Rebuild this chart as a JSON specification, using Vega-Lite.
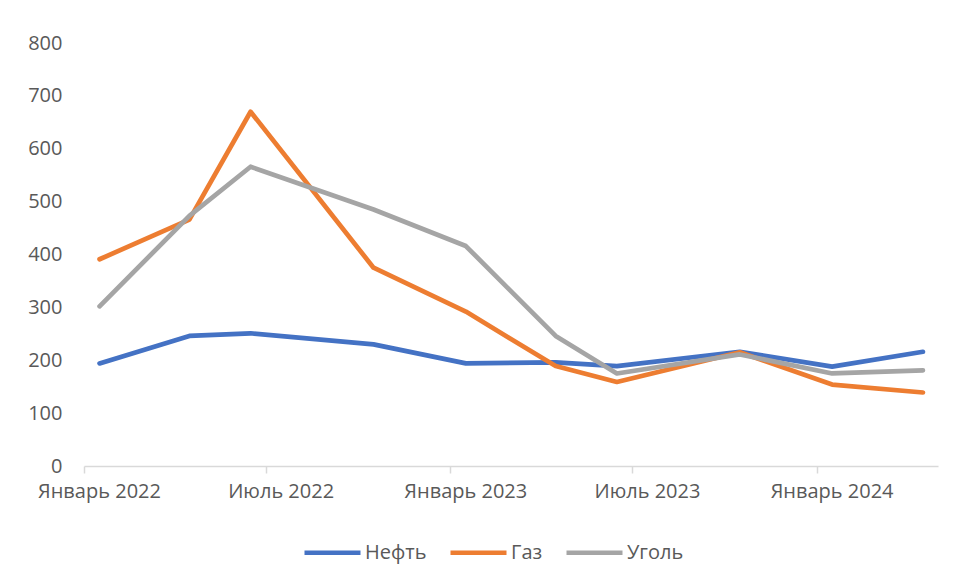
{
  "$schema": "https://vega.github.io/schema/vega-lite/v6.json",
  "width": 854,
  "height": 423,
  "autosize": {"type": "none"},
  "padding": {"left": 84, "top": 43, "right": 16, "bottom": 114},
  "background": "white",
  "config": {
    "view": {"stroke": null},
    "font": "Open Sans",
    "axis": {"labelFont": "Open Sans", "labelFontSize": 20, "labelColor": "#595959", "grid": false},
    "legend": {"labelFont": "Open Sans", "labelFontSize": 20, "labelColor": "#595959"}
  },
  "data": {
    "values": [
      {"date": "2022-01-01", "series": "Нефть", "value": 194},
      {"date": "2022-04-01", "series": "Нефть", "value": 246},
      {"date": "2022-06-01", "series": "Нефть", "value": 251},
      {"date": "2022-10-01", "series": "Нефть", "value": 230},
      {"date": "2023-01-01", "series": "Нефть", "value": 194},
      {"date": "2023-04-01", "series": "Нефть", "value": 196},
      {"date": "2023-06-01", "series": "Нефть", "value": 189},
      {"date": "2023-10-01", "series": "Нефть", "value": 216},
      {"date": "2024-01-01", "series": "Нефть", "value": 188},
      {"date": "2024-04-01", "series": "Нефть", "value": 216},
      {"date": "2022-01-01", "series": "Газ", "value": 391},
      {"date": "2022-04-01", "series": "Газ", "value": 466},
      {"date": "2022-06-01", "series": "Газ", "value": 670},
      {"date": "2022-10-01", "series": "Газ", "value": 375},
      {"date": "2023-01-01", "series": "Газ", "value": 292},
      {"date": "2023-04-01", "series": "Газ", "value": 189},
      {"date": "2023-06-01", "series": "Газ", "value": 159},
      {"date": "2023-10-01", "series": "Газ", "value": 215},
      {"date": "2024-01-01", "series": "Газ", "value": 154},
      {"date": "2024-04-01", "series": "Газ", "value": 139},
      {"date": "2022-01-01", "series": "Уголь", "value": 302},
      {"date": "2022-04-01", "series": "Уголь", "value": 473},
      {"date": "2022-06-01", "series": "Уголь", "value": 566},
      {"date": "2022-10-01", "series": "Уголь", "value": 485},
      {"date": "2023-01-01", "series": "Уголь", "value": 416},
      {"date": "2023-04-01", "series": "Уголь", "value": 246},
      {"date": "2023-06-01", "series": "Уголь", "value": 175},
      {"date": "2023-10-01", "series": "Уголь", "value": 211},
      {"date": "2024-01-01", "series": "Уголь", "value": 175},
      {"date": "2024-04-01", "series": "Уголь", "value": 181}
    ]
  },
  "mark": {"type": "line", "strokeWidth": 4.7, "strokeCap": "round", "strokeJoin": "round"},
  "encoding": {
    "x": {
      "field": "date",
      "type": "temporal",
      "timeUnit": "utcyearmonth",
      "bandPosition": 0.5,
      "title": null,
      "scale": {"domain": [{"year": 2022, "month": 1, "date": 1, "utc": true}, {"year": 2024, "month": 5, "date": 1, "utc": true}]},
      "axis": {
        "values": [
          {"year": 2022, "month": 1, "date": 1, "utc": true},
          {"year": 2022, "month": 7, "date": 1, "utc": true},
          {"year": 2023, "month": 1, "date": 1, "utc": true},
          {"year": 2023, "month": 7, "date": 1, "utc": true},
          {"year": 2024, "month": 1, "date": 1, "utc": true}
        ],
        "labelExpr": "(utcmonth(datum.value) == 0 ? 'Январь ' : 'Июль ') + utcyear(datum.value)",
        "labelOffset": 15,
        "labelAlign": "center",
        "labelPadding": 8,
        "domainColor": "#D9D9D9",
        "domainWidth": 1.5,
        "tickColor": "#D9D9D9",
        "tickWidth": 1.5,
        "tickSize": 7,
        "labelOverlap": false
      }
    },
    "y": {
      "field": "value",
      "type": "quantitative",
      "title": null,
      "scale": {"domain": [0, 800], "nice": false},
      "axis": {"values": [0, 100, 200, 300, 400, 500, 600, 700, 800], "domain": false, "ticks": false, "labelPadding": 22}
    },
    "color": {
      "field": "series",
      "type": "nominal",
      "title": null,
      "scale": {"domain": ["Нефть", "Газ", "Уголь"], "range": ["#4472C4", "#ED7D31", "#A5A5A5"]},
      "legend": {
        "orient": "none",
        "direction": "horizontal",
        "legendX": 218,
        "legendY": 479,
        "symbolType": "stroke",
        "symbolSize": 3136,
        "symbolStrokeWidth": 4.7,
        "labelOffset": 2,
        "columnPadding": 14
      }
    }
  }
}
